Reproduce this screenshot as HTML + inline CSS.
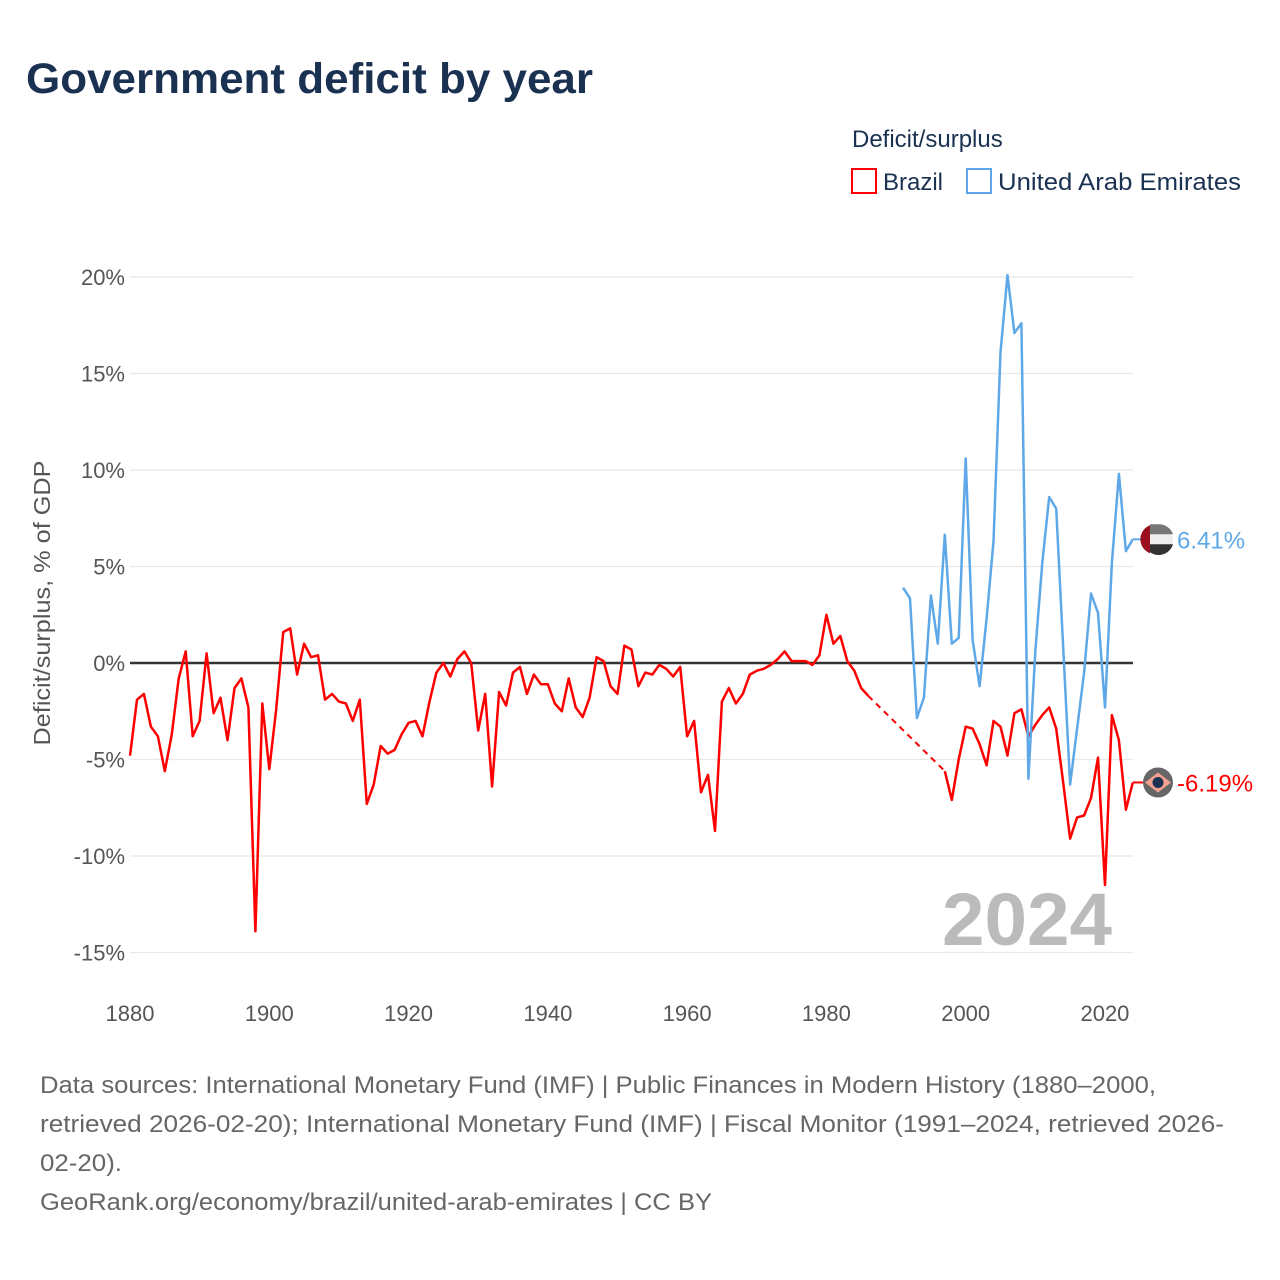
<!DOCTYPE html>
<html><head><meta charset="utf-8"><style>
body{margin:0;background:#fff;}
svg{display:block;font-family:"Liberation Sans",sans-serif;}
</style></head><body>
<svg id="chart" width="1280" height="1280" viewBox="0 0 1280 1280">
<text x="26" y="93" font-size="43" font-weight="bold" fill="#1b3152" textLength="567" lengthAdjust="spacingAndGlyphs">Government deficit by year</text>
<text x="852" y="147" font-size="24" fill="#1b3152">Deficit/surplus</text>
<g>
<rect x="852" y="169" width="24" height="24" fill="none" stroke="#ff0000" stroke-width="2"/>
<text x="883" y="190" font-size="24" fill="#1b3152">Brazil</text></g>
<g>
<rect x="967" y="169" width="24" height="24" fill="none" stroke="#5fa8e8" stroke-width="2"/>
<text x="998" y="190" font-size="24" fill="#1b3152" textLength="243" lengthAdjust="spacingAndGlyphs">United Arab Emirates</text></g>
<text transform="translate(50,603) rotate(-90)" text-anchor="middle" font-size="23" fill="#555" textLength="285" lengthAdjust="spacingAndGlyphs">Deficit/surplus, % of GDP</text>
<g id="grid"></g><g id="yt"></g><g id="xt"></g>
<text x="1112" y="945" text-anchor="end" font-size="74" font-weight="bold" fill="#bbb" textLength="170" lengthAdjust="spacingAndGlyphs">2024</text>
<g id="series"></g>
<g font-size="24" fill="#666" lengthAdjust="spacingAndGlyphs">
<text x="40" y="1093" textLength="1116" lengthAdjust="spacingAndGlyphs">Data sources: International Monetary Fund (IMF) | Public Finances in Modern History (1880–2000,</text>
<text x="40" y="1132" textLength="1184" lengthAdjust="spacingAndGlyphs">retrieved 2026-02-20); International Monetary Fund (IMF) | Fiscal Monitor (1991–2024, retrieved 2026-</text>
<text x="40" y="1171" textLength="82" lengthAdjust="spacingAndGlyphs">02-20).</text>
<text x="40" y="1210" textLength="672" lengthAdjust="spacingAndGlyphs">GeoRank.org/economy/brazil/united-arab-emirates | CC BY</text>
</g>
</svg>
<script>
const yTicks=[20,15,10,5,0,-5,-10,-15];
const xTicks=[1880,1900,1920,1940,1960,1980,2000,2020];
const brazilYears=[];for(let y=1880;y<=1986;y++)brazilYears.push(y);
const brazilEarly=[-4.8,-1.9,-1.6,-3.3,-3.8,-5.6,-3.7,-0.8,0.6,-3.8,-3.0,0.5,-2.6,-1.8,-4.0,-1.3,-0.8,-2.3,-13.9,-2.1,-5.5,-2.4,1.6,1.8,-0.6,1.0,0.3,0.4,-1.9,-1.6,-2.0,-2.1,-3.0,-1.9,-7.3,-6.3,-4.3,-4.7,-4.5,-3.7,-3.1,-3.0,-3.8,-2.0,-0.5,0.0,-0.7,0.2,0.6,0.0,-3.5,-1.6,-6.4,-1.5,-2.2,-0.5,-0.2,-1.6,-0.6,-1.1,-1.1,-2.1,-2.5,-0.8,-2.3,-2.8,-1.8,0.3,0.1,-1.2,-1.6,0.9,0.7,-1.2,-0.5,-0.6,-0.1,-0.3,-0.7,-0.2,-3.8,-3.0,-6.7,-5.8,-8.7,-2.0,-1.3,-2.1,-1.6,-0.6,-0.4,-0.3,-0.1,0.2,0.6,0.1,0.1,0.1,-0.1,0.4,2.5,1.0,1.4,0.1,-0.4,-1.3,-1.7];
const brazilLateYears=[];for(let y=1997;y<=2024;y++)brazilLateYears.push(y);
const brazilLate=[-5.6,-7.1,-5.0,-3.3,-3.4,-4.2,-5.3,-3.0,-3.3,-4.8,-2.6,-2.4,-3.8,-3.2,-2.7,-2.3,-3.4,-6.2,-9.1,-8.0,-7.9,-7.0,-4.9,-11.5,-2.7,-4.0,-7.6,-6.19];
const uaeYears=[];for(let y=1991;y<=2024;y++)uaeYears.push(y);
const uaeValues=[3.9,3.35,-2.85,-1.8,3.5,1.0,6.65,1.0,1.3,10.6,1.2,-1.2,2.3,6.3,16.1,20.1,17.1,17.6,-6.0,0.6,5.2,8.6,8.0,0.8,-6.3,-3.4,-0.5,3.6,2.6,-2.3,5.2,9.8,5.8,6.41];

const X=y=>130+(y-1880)*6.964;
const Y=v=>663-v*19.3;
const NS="http://www.w3.org/2000/svg";
function mk(t,a,p){const e=document.createElementNS(NS,t);for(const k in a)e.setAttribute(k,a[k]);p.appendChild(e);return e;}
const grid=document.getElementById('grid'),yt=document.getElementById('yt'),xt=document.getElementById('xt'),se=document.getElementById('series');
yTicks.forEach(v=>{
 const l=mk('line',{x1:130,x2:1133,y1:Y(v),y2:Y(v),stroke:v===0?'#333':'#e8e8e8','stroke-width':v===0?2.5:1.2},grid);
 
 
 const t=mk('text',{x:125,y:Y(v)+8,'text-anchor':'end','font-size':22,fill:'#555'},yt);
 t.textContent=v+'%';
 
 
});
xTicks.forEach(y=>{
 const t=mk('text',{x:X(y),y:1021,'text-anchor':'middle','font-size':22,fill:'#555'},xt);
 t.textContent=y;
 
 
});
function pts(ys,vs){return ys.map((y,i)=>X(y).toFixed(1)+','+Y(vs[i]).toFixed(1)).join(' ');}
const b1=mk('polyline',{points:pts(brazilYears,brazilEarly),fill:'none',stroke:'#ff0000','stroke-width':2.5,'stroke-linejoin':'round'},se);


const bd=mk('line',{x1:X(1986),y1:Y(brazilEarly[brazilEarly.length-1]),x2:X(1997),y2:Y(brazilLate[0]),stroke:'#ff0000','stroke-width':2,'stroke-dasharray':'6,5'},se);


const b2=mk('polyline',{points:pts(brazilLateYears,brazilLate),fill:'none',stroke:'#ff0000','stroke-width':2.5,'stroke-linejoin':'round'},se);


const u=mk('polyline',{points:pts(uaeYears,uaeValues),fill:'none',stroke:'#5fa8e8','stroke-width':2.5,'stroke-linejoin':'round'},se);


const uy=Y(uaeValues[uaeValues.length-1]),by=Y(brazilLate[brazilLate.length-1]);
const ug=mk('g',{},se);


mk('line',{x1:X(2024),x2:1145,y1:uy,y2:uy,stroke:'#5fa8e8','stroke-width':2},ug);
mk('circle',{cx:1158,cy:uy,r:15,fill:'#eee'},ug);
mk('path',{d:`M1158 ${uy-15} A15 15 0 0 1 1173 ${uy-5} L1150 ${uy-5} L1150 ${uy-15}Z`,fill:'#777'},ug);
mk('path',{d:`M1150 ${uy+5} L1173 ${uy+5} A15 15 0 0 1 1150 ${uy+13}Z`,fill:'#333'},ug);
mk('path',{d:`M1150 ${uy-14} L1150 ${uy+14} A15 15 0 0 1 1150 ${uy-14}Z`,fill:'#9b1020'},ug);
const ut=mk('text',{x:1177,y:uy+9,'font-size':24,fill:'#5fa8e8'},ug);ut.textContent='6.41%';
const bg=mk('g',{},se);


mk('line',{x1:X(2024),x2:1145,y1:by,y2:by,stroke:'#ff0000','stroke-width':2},bg);
mk('circle',{cx:1158,cy:by,r:15,fill:'#666'},bg);
mk('path',{d:`M1145 ${by} L1158 ${by-10} L1171 ${by} L1158 ${by+10}Z`,fill:'#f4a090'},bg);
mk('circle',{cx:1158,cy:by,r:5.5,fill:'#1b3152'},bg);
const bt=mk('text',{x:1177,y:by+9,'font-size':24,fill:'#ff0000'},bg);bt.textContent='-6.19%';
</script>
</body></html>
